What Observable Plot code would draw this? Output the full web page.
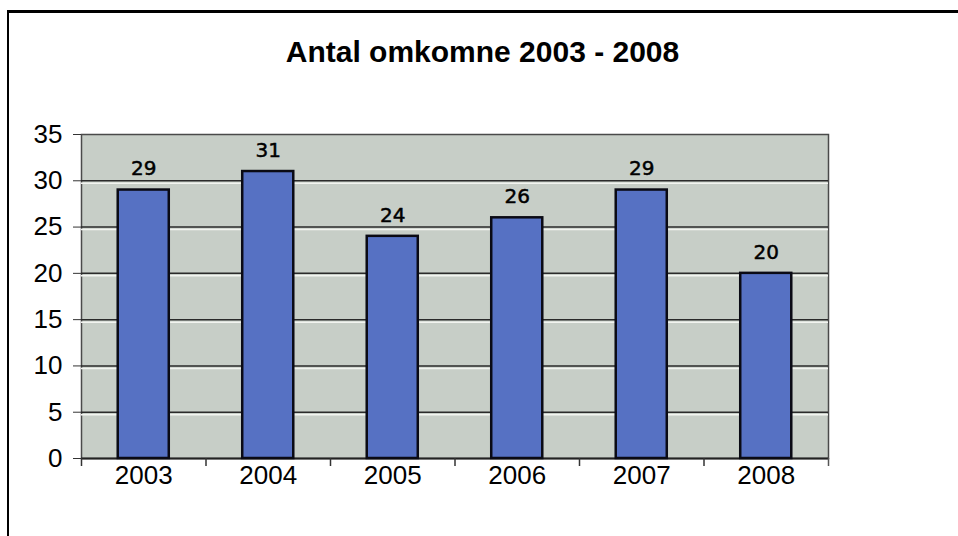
<!DOCTYPE html>
<html>
<head>
<meta charset="utf-8">
<script src="https://cdn.jsdelivr.net/npm/d3@7"></script>
<script src="https://cdn.jsdelivr.net/npm/@observablehq/plot@0.6"></script>
<style>
  html, body { margin: 0; padding: 0; background: #fff; }
  body { width: 958px; height: 536px; position: relative; overflow: hidden; font-family: "Liberation Sans", Arial, sans-serif; }
  #frame { position: absolute; left: 7px; top: 10px; right: -5px; bottom: -5px; border-top: 3px solid #000; border-left: 2px solid #000; }
  #title { position: absolute; top: 37px; left: 0; width: 965px; text-align: center; font-size: 30px; line-height: 30px; font-weight: bold; color: #000; }
  #chart { position: absolute; top: 100px; left: 0; }
</style>
</head>
<body>
<div id="frame"></div>
<div id="title">Antal omkomne 2003 - 2008</div>
<div id="chart"></div>
<script>
const years = ["2003", "2004", "2005", "2006", "2007", "2008"];
const deaths = [29, 31, 24, 26, 29, 20];
const yTicks = [0, 5, 10, 15, 20, 25, 30, 35];
const gridTicks = [5, 10, 15, 20, 25, 30];

const data = years.map((y, i) => ({year: y, value: deaths[i]}));

const W = 958, H = 436, ML = 81, MR = 130, MT = 34, MB = 78;
const step = (W - ML - MR) / years.length;

const plot = Plot.plot({
  width: W,
  height: H,
  marginLeft: ML,
  marginRight: MR,
  marginTop: MT,
  marginBottom: MB,
  style: {fontFamily: "'Liberation Sans', Arial, sans-serif", background: "transparent", color: "#000"},
  x: {domain: years, paddingInner: 0.59, paddingOuter: 0.295, round: false, label: null},
  y: {domain: [0, 35], label: null},
  marks: [
    Plot.frame({fill: "#c7cec7", stroke: "#4a4a4a", strokeWidth: 1.5}),
    Plot.ruleY(gridTicks, {stroke: "#f2f4f0", strokeWidth: 1.5, dy: 2.5}),
    Plot.ruleY(gridTicks, {stroke: "#2a2a2a", strokeWidth: 1.5}),
    Plot.ruleY([0], {stroke: "#222", strokeWidth: 2}),
    Plot.ruleX(years, {x: d => d, y1: 0, dx: -step / 2, stroke: "#333", strokeWidth: 1.5, insetBottom: -8}),
    Plot.ruleX(years.slice(-1), {x: d => d, y1: 0, dx: step / 2, stroke: "#555", strokeWidth: 1.5, insetBottom: -8}),
    Plot.barY(data, {x: "year", y: "value", fill: "#5671c3", stroke: "#0a0a14", strokeWidth: 2.5}),
    Plot.text(data, {x: "year", y: "value", text: d => String(d.value), dy: -21, fontSize: 20, fontFamily: "'DejaVu Sans', Verdana, sans-serif", fill: "#000", stroke: "#000", strokeWidth: 0.5}),
    Plot.axisY({ticks: yTicks, tickSize: 8, tickPadding: 11, fontSize: 26, stroke: "#333", tickFormat: d => String(d)}),
    Plot.axisX({tickSize: 0, tickPadding: 7, fontSize: 26, tickFormat: d => d})
  ]
});
document.getElementById("chart").appendChild(plot);
</script>
</body>
</html>
